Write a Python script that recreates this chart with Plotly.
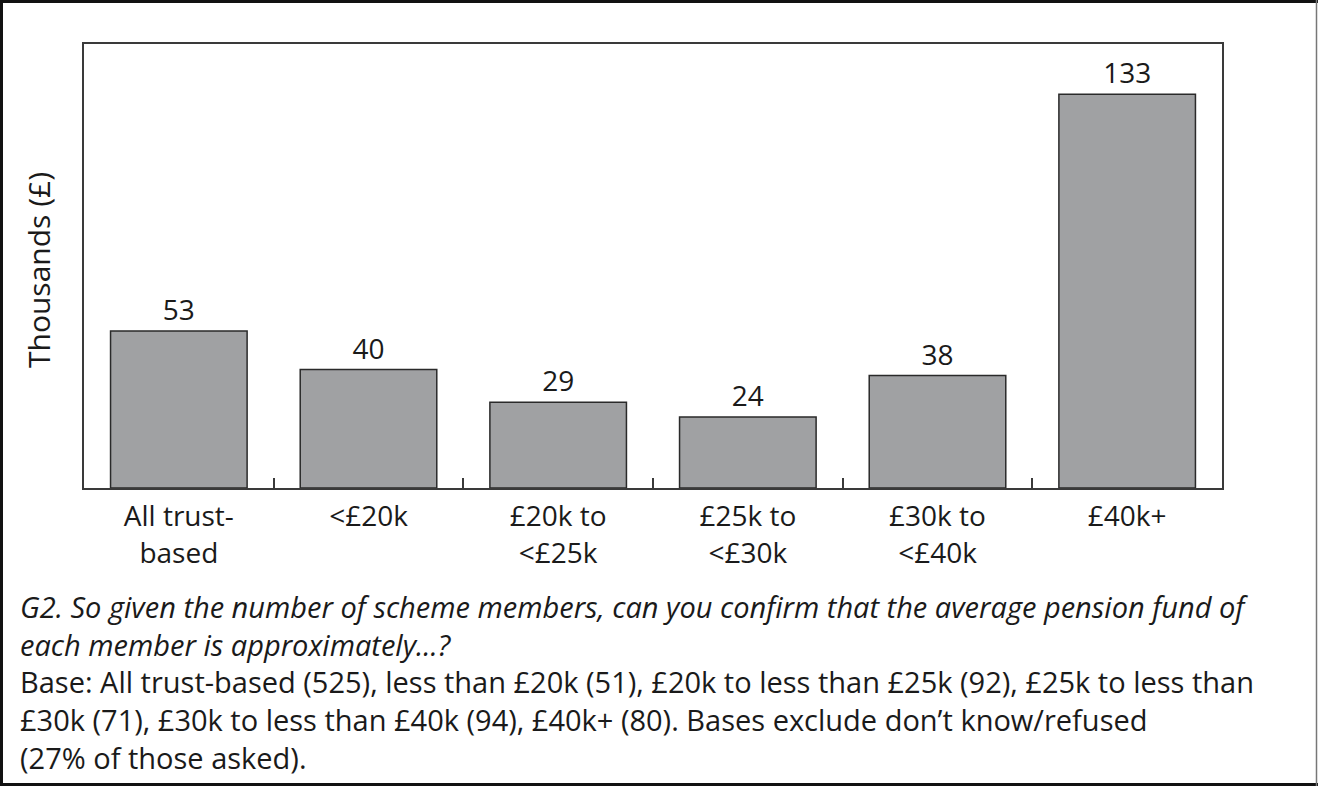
import plotly.graph_objects as go

# Average pension fund per member, by salary band (thousands of pounds)
categories = ["All trust-\nbased", "<£20k", "£20k to\n<£25k", "£25k to\n<£30k", "£30k to\n<£40k", "£40k+"]
values = [53, 40, 29, 24, 38, 133]
y_title = "Thousands (£)"
question = [
    "G2. So given the number of scheme members, can you confirm that the average pension fund of",
    "each member is approximately...?",
]
base_note = [
    "Base: All trust-based (525), less than £20k (51), £20k to less than £25k (92), £25k to less than",
    "£30k (71), £30k to less than £40k (94), £40k+ (80). Bases exclude don’t know/refused",
    "(27% of those asked).",
]


def to_label(s):
    return s.replace("<", "&lt;").replace("\n", "<br>")


labels = [to_label(c) for c in categories]

FONT = "Open Sans"
INK = "#1a1a1a"
W, H = 1318, 787
L, R, T, B = 84, 96, 44, 299          # plot-area margins in pixels
PW, PH = W - L - R, H - T - B


def px_x(px):
    return (px - L) / PW


def px_y(py):
    return (H - B - py) / PH


fig = go.Figure(
    go.Bar(
        x=labels,
        y=values,
        marker=dict(color="#a0a1a3", line=dict(color="#2a2a2a", width=1.5)),
        text=[str(v) for v in values],
        textposition="outside",
        textfont=dict(family=FONT, size=28, color=INK),
        cliponaxis=False,
        hoverinfo="skip",
    )
)

fig.update_layout(
    width=W,
    height=H,
    margin=dict(l=L, r=R, t=T, b=B, autoexpand=False),
    paper_bgcolor="white",
    plot_bgcolor="white",
    bargap=0.28,
    showlegend=False,
    font=dict(family=FONT, size=28, color=INK),
    xaxis=dict(
        type="category",
        showline=True,
        linecolor="#3a3a3a",
        linewidth=1.5,
        mirror=True,
        ticks="inside",
        tickson="boundaries",
        ticklen=10,
        tickwidth=1.5,
        tickcolor="#3a3a3a",
        showgrid=False,
        tickfont=dict(family=FONT, size=28, color=INK),
        ticklabelstandoff=3,
    ),
    yaxis=dict(
        range=[0, 150],
        showline=True,
        linecolor="#3a3a3a",
        linewidth=1.5,
        mirror=True,
        ticks="",
        showticklabels=False,
        showgrid=False,
        zeroline=False,
    ),
)

# y-axis title
fig.add_annotation(
    text=y_title, textangle=-90, showarrow=False,
    xref="paper", yref="paper", x=px_x(38), y=px_y(270),
    xanchor="center", yanchor="middle",
    font=dict(family=FONT, size=30, color=INK),
)

# question wording and base note beneath the chart
caption = "<i>" + "<br>".join(question) + "</i><br>" + "<br>".join(base_note)
fig.add_annotation(
    text=caption, showarrow=False, align="left",
    xref="paper", yref="paper", x=px_x(18), y=px_y(585),
    xanchor="left", yanchor="top",
    font=dict(family=FONT, size=29, color=INK),
)

# frame around the whole figure (right edge lighter and thinner)
frame = [
    (1.5, 1.5, 1.5, 784.5, "#111111", 3),      # left
    (0, 1.5, 1318, 1.5, "#111111", 3),         # top
    (0, 784.5, 1318, 784.5, "#111111", 3),     # bottom
    (1316.5, 0, 1316.5, 786, "#777777", 1.5),  # right
]
for x0, y0, x1, y1, col, w in frame:
    fig.add_shape(
        type="line", xref="paper", yref="paper",
        x0=px_x(x0), x1=px_x(x1), y0=px_y(y0), y1=px_y(y1),
        line=dict(color=col, width=w), layer="above",
    )

fig.write_html("out.html")
